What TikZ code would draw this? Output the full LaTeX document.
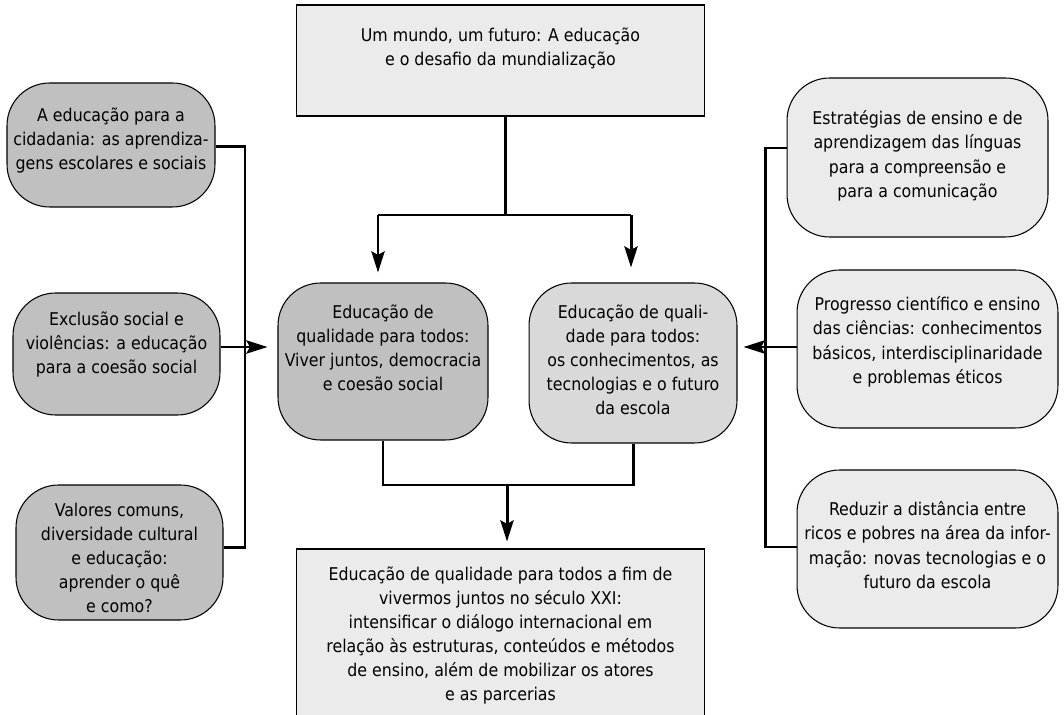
\documentclass[tikz,border=0pt]{standalone}
\usepackage{fontspec}
\setmainfont{DejaVu Sans Condensed}
\usepackage{xcolor}
\usetikzlibrary{positioning,arrows.meta}
\definecolor{darkfill}{HTML}{C0C0C0}
\definecolor{midfill}{HTML}{D9D9D9}
\definecolor{lightfill}{HTML}{EBEBEB}
\tikzset{box node/.style={draw,line width=0.6pt,inner sep=0pt},
	dark node/.style={box node,rounded corners=0.85cm,fill=darkfill},
	mid node/.style={box node,rounded corners=0.85cm,fill=midfill},
	light node/.style={box node,rounded corners=0.85cm,fill=lightfill},
	rect node/.style={box node,fill=lightfill},
	text node/.style={align=center,inner sep=0pt,font=\fontsize{10}{13.7}\selectfont},
	bar/.style={line width=1.7pt},
	arrow bar/.style={bar,-{Stealth[length=12pt,width=7.5pt,inset=2pt]}},}

\begin{document}
\begin{tikzpicture}[x=0.02cm,y=-0.02cm]
	\useasboundingbox (0,0) rectangle (1064,715);
	\begin{scope}
	\clip (0,0) rectangle (1064,715);
	% top and bottom
	\node[rect node,minimum width=8.18cm,minimum height=2.22cm] (top) at (500.5,60.5) {};
	\node[text node] (toptext) [below = .46cm of top.north] {Um mundo, um futuro: A educação\\e o desafio da mundialização};
	\node[rect node,minimum width=8.18cm,minimum height=3.5cm] (bottom) at (500.5,636.5) {};
	\node[text node] (bottomtext) [below = .36cm of bottom.north] {Educação de qualidade para todos a fim de\\vivermos juntos no século XXI:\\intensificar o diálogo internacional em\\relação às estruturas, conteúdos e métodos\\de ensino, além de mobilizar os atores\\e as parcerias};
	\end{scope}

	% centre
	\node[dark node,minimum width=4.2cm,minimum height=3.14cm] (c1) at (383,361.5) {};
	\node[text node] (c1text) [below = .44cm of c1.north] {Educação de\\qualidade para todos:\\Viver juntos, democracia\\e coesão social};
	\node[mid node,minimum width=4.16cm,minimum height=3.2cm] (c2) at (633,363) {};
	\node[text node] (c2text) [below = .44cm of c2.north] {Educação de quali-\\dade para todos:\\os conhecimentos, as\\tecnologias e o futuro\\da escola};

	% left
	\node[dark node,minimum width=4.16cm,minimum height=2.48cm] (l1) at (111,145) {};
	\node[text node] (l1text) [below = .5cm of l1.north] {A educação para a\\cidadania: as aprendiza-\\gens escolares e sociais};
	\node[dark node,minimum width=4.14cm,minimum height=2.44cm] (l2) at (116.5,354) {};
	\node[text node] (l2text) [below = .38cm of l2.north] {Exclusão social e\\violências: a educação\\para a coesão social};
	\node[dark node,minimum width=4.14cm,minimum height=2.7cm] (l3) at (119.5,552.5) {};
	\node[text node] (l3text) [below = .36cm of l3.north] {Valores comuns,\\diversidade cultural\\e educação:\\aprender o quê\\e como?};

	% right
	\node[light node,minimum width=5.22cm,minimum height=3.18cm] (r1) at (917.5,157.5) {};
	\node[text node] (r1text) [below = .66cm of r1.north] {Estratégias de ensino e de\\aprendizagem das línguas\\para a compreensão e\\para a comunicação};
	\node[light node,minimum width=5.22cm,minimum height=3.16cm] (r2) at (927.5,349) {};
	\node[text node] (r2text) [below = .54cm of r2.north] {Progresso científico e ensino\\das ciências: conhecimentos\\básicos, interdisciplinaridade\\e problemas éticos};
	\node[light node,minimum width=5.22cm,minimum height=3.16cm] (r3) at (927.5,549) {};
	\node[text node] (r3text) [below = .64cm of r3.north] {Reduzir a distância entre\\ricos e pobres na área da infor-\\mação: novas tecnologias e o\\futuro da escola};

	\coordinate (split) at (505,215);
	\coordinate (split left) at (378,215);
	\coordinate (split right) at (631,215);
	\coordinate (merge) at (507,485);
	\coordinate (lbus) at (245,347);
	\coordinate (rbus) at (765,347);

	\path[draw,bar]
	(split |- top.south) -- (split)
	(split left) -- (split right)
	([yshift=-0.04cm]l1.east) -| (lbus) |- ([yshift=0.1cm]l3.east)
	([yshift=0.19cm]r1.west) -| (rbus) |- ([yshift=0.04cm]r3.west)
	(c1.south) |- (merge) -| (c2.south)
	;
	\path[draw,arrow bar,shorten >=0.2cm]
	(split left) -- (split left |- c1.north)
	;
	\path[draw,arrow bar,shorten >=0.2cm]
	(l2.east |- lbus) -- (c1.west |- lbus)
	;
	\path[draw,arrow bar,shorten >=0.3cm]
	(split right) -- (split right |- c2.north)
	;
	\path[draw,arrow bar,shorten >=0.12cm]
	(r2.west |- rbus) -- (c2.east |- rbus)
	;
	\path[draw,arrow bar,shorten >=0.14cm]
	(merge) -- (bottom.north -| merge)
	;
\end{tikzpicture}
\end{document}
